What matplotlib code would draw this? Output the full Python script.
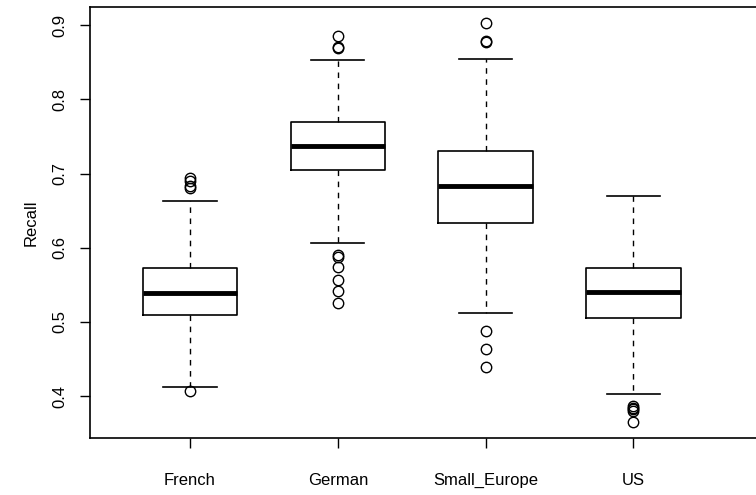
import numpy as np
import matplotlib.pyplot as plt

plt.rcParams['font.family'] = ['Liberation Sans', 'DejaVu Sans']

# valeurs
groups = ['French', 'German', 'Small_Europe', 'US']
q1 = [0.509, 0.705, 0.634, 0.505]
med = [0.539, 0.737, 0.683, 0.540]
q3 = [0.573, 0.770, 0.731, 0.572]
whis_lo = [0.412, 0.607, 0.512, 0.403]
whis_hi = [0.663, 0.853, 0.854, 0.670]
fliers = [
    [0.407, 0.680, 0.683, 0.690, 0.694],
    [0.869, 0.871, 0.885, 0.590, 0.588, 0.574, 0.557, 0.541, 0.525],
    [0.877, 0.879, 0.903, 0.488, 0.463, 0.439],
    [0.386, 0.384, 0.382, 0.380, 0.365],
]
yticks = [0.4, 0.5, 0.6, 0.7, 0.8, 0.9]

stats = []
for i, g in enumerate(groups):
    stats.append({'label': g, 'q1': q1[i], 'med': med[i], 'q3': q3[i],
                  'whislo': whis_lo[i], 'whishi': whis_hi[i], 'fliers': fliers[i]})

W, H = 756, 495
fig = plt.figure(figsize=(W / 100, H / 100), dpi=100)
# le cadre de droite est coupé dans l'original
ax = fig.add_axes([90 / W, (H - 438) / H, (765 - 90) / W, (438 - 7) / H])

ax.bxp(stats, positions=range(1, 5), widths=0.64, capwidths=0.36, showfliers=True,
       boxprops=dict(color='black', linewidth=1.2),
       medianprops=dict(color='black', linewidth=3.5, solid_capstyle='butt'),
       whiskerprops=dict(color='black', linewidth=1.0, linestyle=(0, (4, 4))),
       capprops=dict(color='black', linewidth=1.2),
       flierprops=dict(marker='o', markerfacecolor='none', markeredgecolor='black',
                       markersize=7.5, markeredgewidth=1.0))

ax.set_xlim(0.323, 4.89)
ax.set_ylim(0.3435, 0.9245)
ax.set_yticks(yticks)
ax.set_yticklabels([f'{v:.1f}' for v in yticks], rotation=90, va='center')
ax.set_xticks(range(1, 5))
ax.set_xticklabels(groups)
ax.tick_params(axis='both', direction='out', length=7, width=1, labelsize=12)
ax.tick_params(axis='x', pad=18)
ax.tick_params(axis='y', pad=9)
ax.set_ylabel('Recall', fontsize=12, labelpad=10)
for s in ax.spines.values():
    s.set_linewidth(1.2)

fig.savefig('out.png', dpi=100)
